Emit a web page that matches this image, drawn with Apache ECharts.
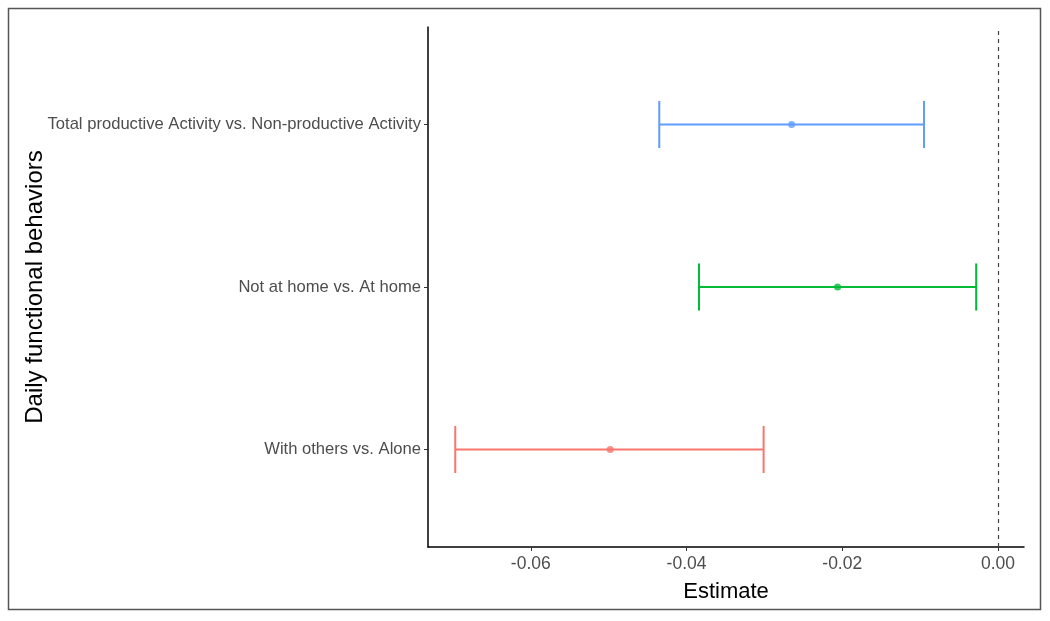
<!DOCTYPE html>
<html>
<head>
<meta charset="utf-8">
<script src="https://cdn.jsdelivr.net/npm/echarts@6/dist/echarts.min.js"></script>
<style>
  html, body { margin: 0; padding: 0; background: #fff; }
  #chart { width: 1050px; height: 621px; }
</style>
</head>
<body>
<div id="chart"></div>
<script>
// behaviours, bottom to top
const categories = [
  "With others vs. Alone",
  "Not at home vs. At home",
  "Total productive Activity vs. Non-productive Activity"
];
const estimates = [-0.0498, -0.0206, -0.0265];
const lowerCI = [-0.0697, -0.0384, -0.0435];
const upperCI = [-0.0301, -0.0028, -0.0095];
const xTicks = [-0.06, -0.04, -0.02, 0];

// ggplot default hue palette
const palette = ["#F8766D", "#00BA38", "#619CFF"];

const chart = echarts.init(document.getElementById("chart"), null, { renderer: "canvas" });

const barData = categories.map((c, i) => [lowerCI[i], upperCI[i], i + 1]);
const pointData = categories.map((c, i) => ({
  value: [estimates[i], i + 1],
  itemStyle: { color: palette[i] }
}));

const option = {
  backgroundColor: "#fff",
  animation: false,
  textStyle: { fontFamily: "'Liberation Sans', Arial, sans-serif" },
  grid: { left: 428, right: 26, top: 27, bottom: 74, containLabel: false, outerBoundsMode: "none" },
  xAxis: {
    type: "value",
    min: -0.0732,
    max: 0.00334,
    name: "Estimate",
    nameLocation: "middle",
    nameGap: 34,
    nameMoveOverlap: false,
    nameTextStyle: { color: "#000", fontSize: 22 },
    axisLine: { show: true, onZero: false, lineStyle: { color: "#000", width: 1.5 } },
    axisTick: { show: true, length: 4, customValues: xTicks, lineStyle: { color: "#333" } },
    axisLabel: {
      customValues: xTicks,
      color: "#4d4d4d",
      fontSize: 17.5,
      margin: 8,
      formatter: (v) => v.toFixed(2)
    },
    splitLine: { show: false }
  },
  yAxis: {
    type: "value",
    min: 0.4,
    max: 3.6,
    name: "Daily functional behaviors",
    nameLocation: "middle",
    nameRotate: 90,
    nameGap: 381,
    nameMoveOverlap: false,
    nameTextStyle: { color: "#000", fontSize: 24 },
    axisLine: { show: true, onZero: false, lineStyle: { color: "#000", width: 1.5 } },
    axisTick: { show: true, length: 4, customValues: [1, 2, 3], lineStyle: { color: "#333" } },
    axisLabel: {
      customValues: [1, 2, 3],
      color: "#4d4d4d",
      fontSize: 16.6,
      margin: 7,
      formatter: (v) => categories[Math.round(v) - 1] || ""
    },
    splitLine: { show: false }
  },
  graphic: [{
    type: "rect",
    shape: { x: 8.5, y: 8.5, width: 1032, height: 601 },
    style: { fill: "none", stroke: "#555", lineWidth: 1.5 },
    silent: true
  }],
  series: [
    {
      type: "custom",
      data: barData,
      renderItem: (params, api) => {
        const lo = api.value(0), hi = api.value(1), y = api.value(2);
        const a = api.coord([lo, y]);
        const b = api.coord([hi, y]);
        const top = api.coord([lo, y + 0.145])[1];
        const bot = api.coord([lo, y - 0.145])[1];
        const style = { stroke: palette[params.dataIndex], lineWidth: 2, fill: "none" };
        return {
          type: "group",
          children: [
            { type: "line", shape: { x1: a[0], y1: a[1], x2: b[0], y2: b[1] }, style },
            { type: "line", shape: { x1: a[0], y1: top, x2: a[0], y2: bot }, style },
            { type: "line", shape: { x1: b[0], y1: top, x2: b[0], y2: bot }, style }
          ]
        };
      },
      z: 2
    },
    {
      type: "scatter",
      data: pointData,
      symbolSize: 7,
      z: 3,
      markLine: {
        silent: true,
        symbol: "none",
        label: { show: false },
        lineStyle: { color: "#444", type: [4, 4], width: 1.2 },
        data: [{ xAxis: 0 }]
      }
    }
  ]
};

chart.setOption(option);
</script>
</body>
</html>
